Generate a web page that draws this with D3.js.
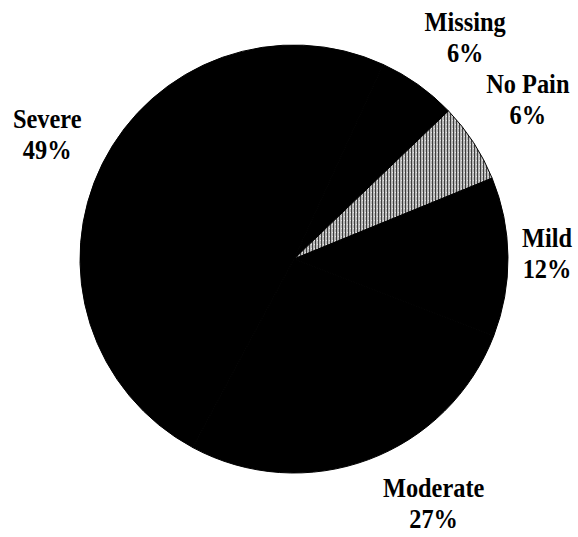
<!DOCTYPE html>
<html>
<head>
<meta charset="utf-8">
<script src="https://cdn.jsdelivr.net/npm/d3@7"></script>
<style>
  html, body { margin: 0; padding: 0; background: #ffffff; }
  svg { display: block; }
</style>
</head>
<body>
<svg id="chart" width="578" height="537"></svg>
<script>
// Pain severity breakdown, clockwise from the top
const categories = ["Missing", "No Pain", "Mild", "Moderate", "Severe"];
const percents = [6, 6, 12, 27, 49];
const percentLabels = ["6%", "6%", "12%", "27%", "49%"];

const width = 578, height = 537;
const cx = 294, cy = 259, radius = 214;
const deg = Math.PI / 180;

const svg = d3.select("#chart");

// Hatched grey fill for the "No Pain" wedge
const defs = svg.append("defs");
const pat = defs.append("pattern")
  .attr("id", "hatch")
  .attr("patternUnits", "userSpaceOnUse")
  .attr("width", 3).attr("height", 4);
pat.append("rect").attr("width", 3).attr("height", 4).attr("fill", "#b8b8b8");
pat.append("rect").attr("x", 0).attr("width", 1).attr("height", 4).attr("fill", "#3e3e3e");
pat.append("rect").attr("x", 2).attr("y", 1).attr("width", 1).attr("height", 1).attr("fill", "#e6e6e6");

const fills = { "No Pain": "url(#hatch)" };

const rows = categories.map((c, i) => ({ name: c, value: percents[i], label: percentLabels[i] }));

const startOffset = 24.6 * deg;
const pie = d3.pie()
  .sort(null)
  .value(d => d.value)
  .startAngle(startOffset)
  .endAngle(startOffset + 2 * Math.PI);

const arcs = pie(rows);
const arc = d3.arc().innerRadius(0).outerRadius(radius);

const g = svg.append("g").attr("transform", `translate(${cx},${cy})`);

g.selectAll("path.slice")
  .data(arcs)
  .join("path")
  .attr("class", "slice")
  .attr("d", arc)
  .attr("fill", d => fills[d.data.name] || "#000000")
  .attr("stroke", "#000")
  .attr("stroke-width", 1);

// Labels sit on a ring outside the pie, with small per-label nudges
const labelRadius = 280;
const nudges = {
  "Missing": [9, 7],
  "No Pain": [-1, -7],
  "Mild": [-27, -3],
  "Moderate": [42, -18],
  "Severe": [4, 0]
};
const lineGap = 31;

const labels = g.selectAll("g.label")
  .data(arcs)
  .join("g")
  .attr("class", "label")
  .attr("transform", d => {
    const a = (d.startAngle + d.endAngle) / 2;
    const n = nudges[d.data.name] || [0, 0];
    const x = Math.sin(a) * labelRadius + n[0];
    const y = -Math.cos(a) * labelRadius + n[1];
    return `translate(${x},${y}) scale(0.87,1)`;
  });

const txt = labels.append("text")
  .attr("text-anchor", "middle")
  .attr("font-family", "'Liberation Serif', 'Times New Roman', Times, serif")
  .attr("font-weight", "bold")
  .attr("font-size", 28)
  .attr("fill", "#000");

txt.append("tspan")
  .attr("x", 0)
  .attr("y", -lineGap / 2 + 9)
  .text(d => d.data.name);

txt.append("tspan")
  .attr("x", 0)
  .attr("y", lineGap / 2 + 9)
  .text(d => d.data.label);
</script>
</body>
</html>
